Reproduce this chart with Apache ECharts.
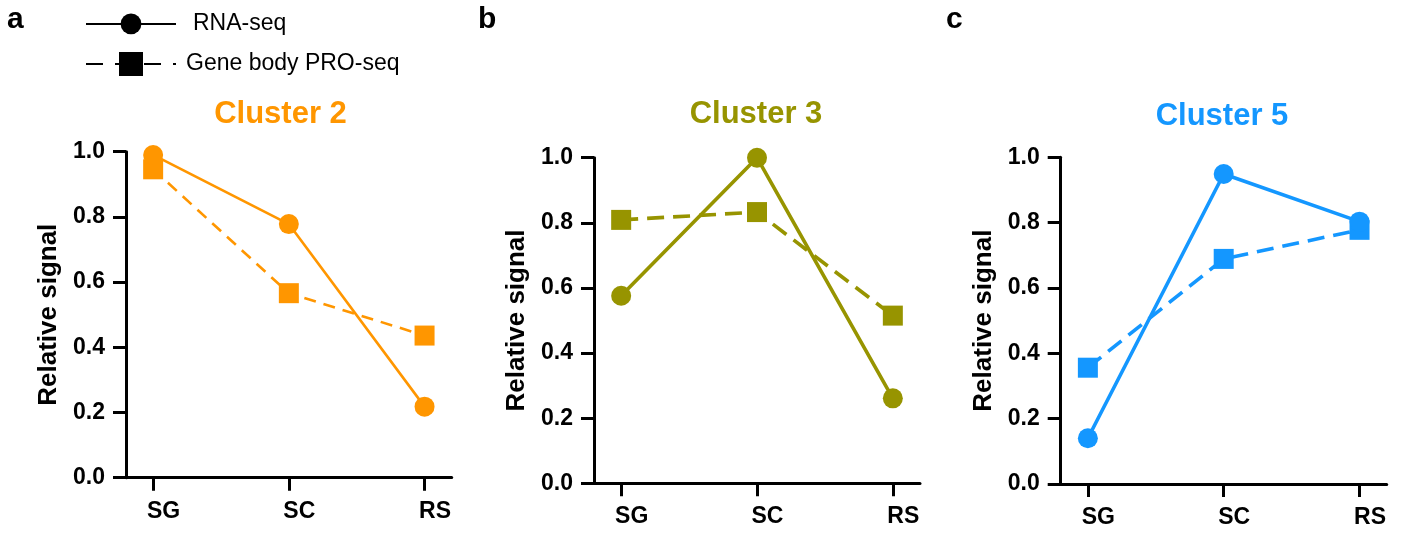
<!DOCTYPE html>
<html>
<head>
<meta charset="utf-8">
<script src="https://cdn.jsdelivr.net/npm/echarts@6/dist/echarts.min.js"></script>
<style>
html,body{margin:0;padding:0;background:#fff;}
#c{width:1407px;height:535px;}
</style>
</head>
<body>
<div id="c"></div>
<script>
// ---- data ----
const categories = ['SG', 'SC', 'RS'];
const yTicks = [0, 0.2, 0.4, 0.6, 0.8, 1.0];
const panelLetters = ['a', 'b', 'c'];
const clusterTitles = ['Cluster 2', 'Cluster 3', 'Cluster 5'];
const clusterColors = ['#FF9600', '#979400', '#1497FF'];
const legendNames = ['RNA-seq', 'Gene body PRO-seq'];
const cluster2RNA = [0.99, 0.778, 0.218];
const cluster2PRO = [0.946, 0.566, 0.436];
const cluster3RNA = [0.576, 1.0, 0.261];
const cluster3PRO = [0.809, 0.833, 0.515];
const cluster5RNA = [0.14, 0.949, 0.803];
const cluster5PRO = [0.356, 0.689, 0.778];

const rnaSets = [cluster2RNA, cluster3RNA, cluster5RNA];
const proSets = [cluster2PRO, cluster3PRO, cluster5PRO];

const FONT = '"Liberation Sans", Arial, Helvetica, sans-serif';

const grids = [
  {left: 126, top: 151.7, width: 325.7, height: 326},
  {left: 594, top: 157.7, width: 326, height: 325.6},
  {left: 1060.7, top: 157.3, width: 326, height: 326.7}
];
const lineW = [2.6, 3.6, 3.6];
const dashes = [[12, 8], [17, 9], [17, 9]];
const titleCenters = [280.5, 756, 1222];
const titleTops = [99, 99, 101];
const letterLefts = [7, 478, 946];

const pts = arr => arr.map((v, i) => [i, v]);

const xAxes = grids.map((g, i) => ({
  type: 'value', gridIndex: i, min: -0.2, max: 2.2,
  splitLine: {show: false},
  axisLine: {show: true, onZero: false, lineStyle: {color: '#000', width: 3}},
  axisTick: {show: true, customValues: [0, 1, 2], length: 13, lineStyle: {color: '#000', width: 3}},
  axisLabel: {
    show: true, customValues: [0, 1, 2], margin: 22,
    formatter: v => categories[Math.round(v)],
    color: '#000', fontSize: 23, fontWeight: 'bold', fontFamily: FONT,
    padding: [0, 0, 0, 21]
  }
}));

const yAxes = grids.map((g, i) => ({
  type: 'value', gridIndex: i, min: 0, max: 1, interval: 0.2,
  splitLine: {show: false},
  name: 'Relative signal', nameLocation: 'middle', nameGap: 64, nameRotate: 90,
  nameTextStyle: {color: '#000', fontSize: 26, fontWeight: 'bold', fontFamily: FONT},
  axisLine: {show: true, onZero: false, lineStyle: {color: '#000', width: 3}},
  axisTick: {show: true, length: 13, lineStyle: {color: '#000', width: 3}},
  axisLabel: {
    margin: 21, formatter: v => v.toFixed(1),
    color: '#000', fontSize: 23, fontWeight: 'bold', fontFamily: FONT
  }
}));

const series = [];
for (let i = 0; i < 3; i++) {
  series.push({
    name: clusterTitles[i] + ' ' + legendNames[1], type: 'line',
    xAxisIndex: i, yAxisIndex: i, data: pts(proSets[i]),
    symbol: 'rect', symbolSize: 20, clip: false,
    itemStyle: {color: clusterColors[i]},
    lineStyle: {color: clusterColors[i], width: lineW[i], type: dashes[i]},
    emphasis: {disabled: true}, silent: true, z: 3
  });
  series.push({
    name: clusterTitles[i] + ' ' + legendNames[0], type: 'line',
    xAxisIndex: i, yAxisIndex: i, data: pts(rnaSets[i]),
    symbol: 'circle', symbolSize: 20, clip: false,
    itemStyle: {color: clusterColors[i]},
    lineStyle: {color: clusterColors[i], width: lineW[i], type: 'solid'},
    emphasis: {disabled: true}, silent: true, z: 4
  });
}
// legend-only series (black key)
series.push({
  name: legendNames[0], type: 'line', xAxisIndex: 0, yAxisIndex: 0, data: [],
  symbol: 'circle', itemStyle: {color: '#000'},
  lineStyle: {color: '#000', width: 2, type: 'solid'}
});
series.push({
  name: legendNames[1], type: 'line', xAxisIndex: 0, yAxisIndex: 0, data: [],
  symbol: 'rect', itemStyle: {color: '#000'},
  lineStyle: {color: '#000', width: 2, type: [17, 12]}
});

const titles = [];
for (let i = 0; i < 3; i++) {
  titles.push({
    text: clusterTitles[i], left: titleCenters[i], top: titleTops[i], textAlign: 'center', padding: 0,
    textStyle: {color: clusterColors[i], fontSize: 31, fontWeight: 'bold', fontFamily: FONT}
  });
  titles.push({
    text: panelLetters[i], left: letterLefts[i], top: 5, padding: 0,
    textStyle: {color: '#000', fontSize: 30, fontWeight: 'bold', fontFamily: FONT}
  });
}

const option = {
  backgroundColor: '#fff',
  animation: false,
  title: titles,
  legend: [
    {
      data: [{name: legendNames[0], textStyle: {padding: [0, 0, 0, 12]}}],
      left: 85, top: 12.4, padding: 0, itemWidth: 90, itemHeight: 26, selectedMode: false,
      textStyle: {color: '#000', fontSize: 23, fontFamily: FONT}
    },
    {
      data: [{name: legendNames[1], textStyle: {padding: [0, 0, 0, 5]}}],
      left: 85, top: 52, padding: 0, itemWidth: 90, itemHeight: 30, selectedMode: false,
      textStyle: {color: '#000', fontSize: 23, fontFamily: FONT}
    }
  ],
  grid: grids,
  xAxis: xAxes,
  yAxis: yAxes,
  series: series
};

const chart = echarts.init(document.getElementById('c'), null, {renderer: 'canvas'});
chart.setOption(option);
</script>
</body>
</html>
